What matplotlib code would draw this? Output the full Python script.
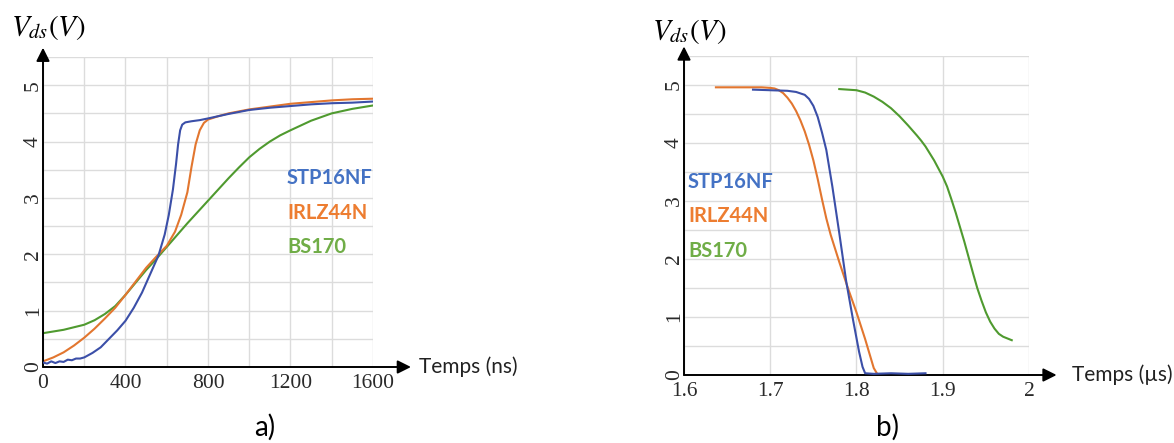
import numpy as np
import matplotlib
matplotlib.use("Agg")
import matplotlib.pyplot as plt

plt.rcParams['mathtext.fontset'] = 'stix'

# ---- panel a) : turn-off, time in ns ----
t_stp_a = [0, 20, 40, 60, 80, 100, 120, 140, 160, 180, 200, 240, 280, 320, 360, 400,
           440, 480, 520, 560, 590, 610, 630, 645, 655, 665, 675, 690, 720, 760, 800,
           900, 1000, 1100, 1200, 1300, 1400, 1500, 1600]
v_stp_a = [0.08, 0.06, 0.10, 0.07, 0.10, 0.09, 0.13, 0.12, 0.15, 0.15, 0.17, 0.25, 0.35,
           0.50, 0.65, 0.82, 1.05, 1.32, 1.65, 1.98, 2.35, 2.70, 3.15, 3.60, 3.95, 4.20,
           4.30, 4.34, 4.36, 4.38, 4.41, 4.49, 4.56, 4.60, 4.63, 4.66, 4.68, 4.69, 4.71]

t_irl_a = [0, 50, 100, 150, 200, 250, 300, 350, 400, 450, 500, 550, 600, 640, 670, 700,
           720, 740, 760, 780, 800, 850, 900, 1000, 1100, 1200, 1300, 1400, 1500, 1600]
v_irl_a = [0.10, 0.17, 0.26, 0.38, 0.52, 0.68, 0.86, 1.05, 1.28, 1.52, 1.76, 1.96, 2.15,
           2.40, 2.70, 3.10, 3.55, 3.95, 4.20, 4.33, 4.39, 4.45, 4.50, 4.57, 4.62, 4.67,
           4.70, 4.73, 4.75, 4.76]

t_bs_a = [0, 100, 200, 250, 300, 350, 400, 450, 500, 550, 600, 650, 700, 750, 800, 850,
          900, 950, 1000, 1050, 1100, 1150, 1200, 1300, 1400, 1500, 1600]
v_bs_a = [0.60, 0.66, 0.75, 0.83, 0.94, 1.08, 1.28, 1.50, 1.72, 1.92, 2.13, 2.34, 2.55,
          2.75, 2.95, 3.15, 3.35, 3.54, 3.72, 3.87, 4.00, 4.11, 4.20, 4.37, 4.50, 4.58,
          4.64]

# ---- panel b) : turn-on, time in us ----
t_stp_b = [1.68, 1.70, 1.72, 1.73, 1.74, 1.745, 1.75, 1.755, 1.76, 1.765, 1.772, 1.78,
           1.788, 1.796, 1.803, 1.807, 1.81, 1.82, 1.84, 1.86, 1.88]
v_stp_b = [4.92, 4.91, 4.90, 4.88, 4.83, 4.76, 4.64, 4.45, 4.18, 3.88, 3.25, 2.45, 1.62,
           0.95, 0.40, 0.14, 0.03, 0.02, 0.03, 0.02, 0.03]

t_irl_b = [1.637, 1.65, 1.67, 1.69, 1.70, 1.705, 1.71, 1.715, 1.72, 1.725, 1.73, 1.735,
           1.74, 1.745, 1.75, 1.755, 1.76, 1.765, 1.77, 1.78, 1.79, 1.80, 1.81, 1.82,
           1.824]
v_irl_b = [4.96, 4.96, 4.96, 4.96, 4.95, 4.94, 4.91, 4.86, 4.78, 4.68, 4.55, 4.39, 4.20,
           3.97, 3.70, 3.38, 3.03, 2.70, 2.42, 1.95, 1.50, 1.08, 0.62, 0.12, 0.02]

t_bs_b = [1.78, 1.79, 1.80, 1.81, 1.82, 1.83, 1.84, 1.85, 1.86, 1.87, 1.875, 1.88, 1.89,
          1.90, 1.905, 1.91, 1.915, 1.92, 1.925, 1.93, 1.935, 1.94, 1.945, 1.95, 1.955,
          1.96, 1.965, 1.97, 1.975, 1.98]
v_bs_b = [4.93, 4.92, 4.91, 4.87, 4.80, 4.71, 4.60, 4.46, 4.30, 4.13, 4.04, 3.94, 3.70,
          3.42, 3.25, 3.03, 2.80, 2.55, 2.30, 2.03, 1.76, 1.50, 1.28, 1.08, 0.92, 0.80,
          0.71, 0.66, 0.63, 0.60]

labels = ["STP16NF", "IRLZ44N", "BS170"]
line_colors = ["#3b4fa8", "#e2762f", "#4f9a2f"]
text_colors = ["#4472c4", "#ed7d31", "#70ad47"]

W, H = 1174, 443
fig = plt.figure(figsize=(W / 100, H / 100), dpi=100)


def px_axes(x0, x1, y0, y1):
    # pixel box -> figure fraction
    return fig.add_axes([x0 / W, 1 - y1 / H, (x1 - x0) / W, (y1 - y0) / H])


def setup(ax, xlim, xgrid, xticks, xticklabels, xlabel, arrow_end, xlabel_x, ylab_xy,
          tag, tag_x, legend_xy):
    ax.set_xlim(*xlim)
    ax.set_ylim(0, 5.5)
    for s in ax.spines.values():
        s.set_visible(False)
    ax.set_xticks(xgrid, minor=True)
    ax.set_yticks(np.arange(0, 5.51, 0.5), minor=True)
    ax.grid(True, which='both', color='#dcdcdc', lw=1.0)
    ax.set_xticks(xticks)
    ax.set_xticklabels(xticklabels, family='Liberation Serif', fontsize=15.5, color='#2a2a2a')
    ax.set_yticks(range(6))
    ax.set_yticklabels([str(i) for i in range(6)], family='Liberation Serif', fontsize=15.5,
                       color='#2a2a2a', rotation=90, va='center')
    ax.tick_params(which='both', length=0)
    ax.tick_params(axis='x', pad=5)
    ax.tick_params(axis='y', pad=0)
    # axis arrows
    ax.annotate('', xy=(arrow_end, 0), xytext=(0, 0), xycoords='axes fraction',
                arrowprops=dict(arrowstyle='-|>', color='black', lw=1.4, mutation_scale=20,
                                shrinkA=0, shrinkB=0), annotation_clip=False)
    ax.annotate('', xy=(0, 1.03), xytext=(0, 0), xycoords='axes fraction',
                arrowprops=dict(arrowstyle='-|>', color='black', lw=1.4, mutation_scale=20,
                                shrinkA=0, shrinkB=0), annotation_clip=False)
    ax.text(xlabel_x, 0.0, xlabel, transform=ax.transAxes, family='Lato', fontsize=15,
            color='#222222', va='center', ha='left')
    ax.text(ylab_xy[0] / W, 1 - ylab_xy[1] / H, r'$V_{ds}(V)$', transform=fig.transFigure,
            fontsize=21, va='center', ha='left')
    fig.text(tag_x / W, 1 - 427 / H, tag, family='Lato', fontsize=20, ha='center',
             va='center')
    lx, ly = legend_xy
    for i, lab in enumerate(labels):
        fig.text(lx / W, 1 - (ly + i * 34.5) / H, lab, family='Lato', weight='bold',
                 fontsize=14.5, color=text_colors[i], ha='left', va='center')


ax_a = px_axes(43, 373, 57, 367)
ax_a.plot(t_stp_a, v_stp_a, color=line_colors[0], lw=1.5, zorder=4)
ax_a.plot(t_irl_a, v_irl_a, color=line_colors[1], lw=1.5, zorder=3)
ax_a.plot(t_bs_a, v_bs_a, color=line_colors[2], lw=1.5, zorder=2)
setup(ax_a, (0, 1600), np.arange(0, 1601, 200), [0, 400, 800, 1200, 1600],
      ["0", "400", "800", "1200", "1600"], "Temps (ns)", 1.115, 1.14, (11, 27),
      "a)", 265, (287, 178))

ax_b = px_axes(684, 1029, 56, 375)
ax_b.plot(t_stp_b, v_stp_b, color=line_colors[0], lw=1.5, zorder=4)
ax_b.plot(t_irl_b, v_irl_b, color=line_colors[1], lw=1.5, zorder=3)
ax_b.plot(t_bs_b, v_bs_b, color=line_colors[2], lw=1.5, zorder=2)
setup(ax_b, (1.6, 2.0), np.arange(1.6, 2.001, 0.1), [1.6, 1.7, 1.8, 1.9, 2.0],
      ["1.6", "1.7", "1.8", "1.9", "2"], "Temps (\u00b5s)", 1.08, 1.125, (652, 31),
      "b)", 887, (688, 182))

fig.savefig("out.png", dpi=100)
